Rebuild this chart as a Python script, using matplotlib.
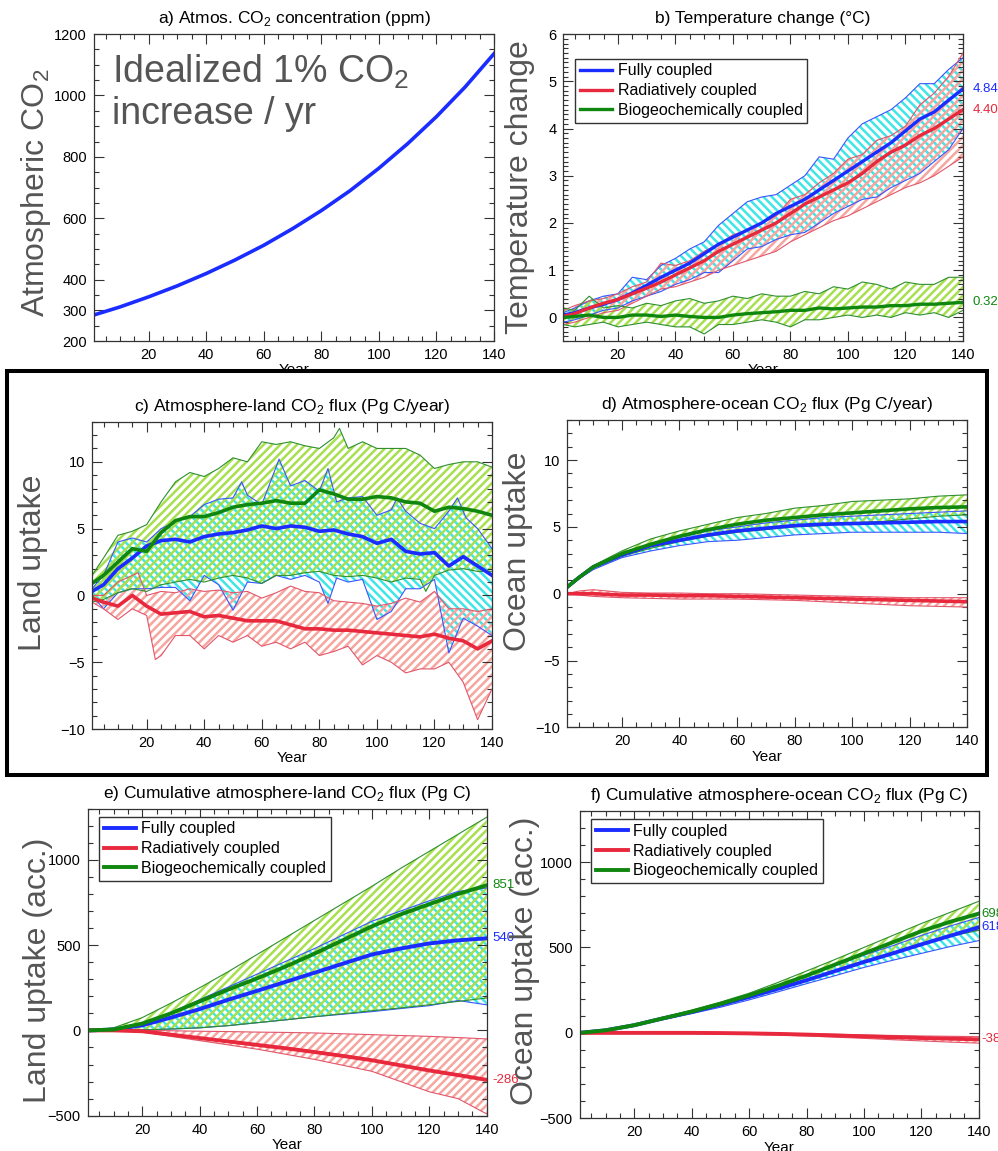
import numpy as np
import matplotlib.pyplot as plt
from matplotlib.patches import Rectangle
from matplotlib.ticker import MultipleLocator, FixedLocator

plt.rcParams['font.family'] = ['Liberation Sans', 'DejaVu Sans']
plt.rcParams['mathtext.fontset'] = 'custom'
plt.rcParams['mathtext.rm'] = 'Liberation Sans'
plt.rcParams['hatch.linewidth'] = 1.8

# ---- data ----
# a) CO2 concentration
co2_years = [1, 10, 20, 30, 40, 50, 60, 70, 80, 90, 100, 110, 120, 130, 140]
co2_ppm = [285, 311, 344, 380, 420, 464, 512, 566, 625, 690, 763, 843, 931, 1028, 1136]

# b) temperature change, 5-year grid
yr5 = [1, 5, 10, 15, 20, 25, 30, 35, 40, 45, 50, 55, 60, 65, 70, 75, 80, 85, 90, 95,
       100, 105, 110, 115, 120, 125, 130, 135, 140]
tb_full = [0.05, 0.1, 0.2, 0.28, 0.38, 0.52, 0.68, 0.85, 1.0, 1.15, 1.35, 1.55, 1.7, 1.85, 2.0,
           2.2, 2.35, 2.5, 2.7, 2.9, 3.1, 3.3, 3.5, 3.7, 3.95, 4.2, 4.35, 4.6, 4.84]
tb_full_hi = [0.1, 0.2, 0.35, 0.45, 0.5, 0.85, 0.8, 1.1, 1.25, 1.45, 1.6, 1.95, 2.2, 2.45, 2.55,
              2.6, 2.8, 3.0, 3.4, 3.35, 3.8, 4.1, 4.25, 4.4, 4.65, 4.95, 4.95, 5.25, 5.5]
tb_full_lo = [-0.1, -0.05, 0.05, 0.15, 0.2, 0.35, 0.45, 0.55, 0.7, 0.8, 0.95, 0.95, 1.2, 1.45, 1.5,
              1.65, 1.75, 1.8, 2.0, 2.2, 2.35, 2.5, 2.55, 2.75, 2.9, 3.05, 3.3, 3.55, 4.0]
tb_rad = [0.02, 0.08, 0.2, 0.3, 0.38, 0.5, 0.62, 0.75, 0.9, 1.05, 1.2, 1.4, 1.55, 1.7, 1.85,
          2.0, 2.2, 2.4, 2.55, 2.7, 2.85, 3.05, 3.3, 3.5, 3.65, 3.85, 4.0, 4.2, 4.40]
tb_rad_hi = [0.15, 0.25, 0.35, 0.4, 0.5, 0.65, 0.75, 1.15, 1.1, 1.2, 1.4, 1.55, 1.75, 1.85, 2.0,
             2.15, 2.5, 2.6, 2.85, 3.05, 3.35, 3.45, 3.75, 3.85, 4.05, 4.5, 4.75, 5.1, 5.6]
tb_rad_lo = [-0.15, -0.1, 0.0, 0.1, 0.15, 0.3, 0.45, 0.6, 0.65, 0.75, 0.85, 1.0, 1.1, 1.2, 1.3,
             1.4, 1.6, 1.75, 1.9, 2.05, 2.15, 2.3, 2.45, 2.6, 2.75, 2.85, 3.0, 3.2, 3.4]
tb_bgc = [0.0, 0.02, 0.05, 0.0, 0.0, 0.05, 0.05, 0.02, 0.05, 0.02, 0.0, 0.0, 0.05, 0.08, 0.1,
          0.12, 0.15, 0.15, 0.2, 0.18, 0.2, 0.22, 0.22, 0.25, 0.25, 0.28, 0.28, 0.3, 0.32]
tb_bgc_hi = [0.2, 0.15, 0.45, 0.2, 0.25, 0.2, 0.3, 0.25, 0.35, 0.4, 0.3, 0.35, 0.45, 0.4, 0.5,
             0.45, 0.45, 0.55, 0.5, 0.65, 0.6, 0.75, 0.7, 0.6, 0.75, 0.7, 0.7, 0.85, 0.85]
tb_bgc_lo = [-0.15, -0.2, -0.15, -0.1, -0.2, -0.15, -0.1, -0.15, -0.2, -0.2, -0.35, -0.15, -0.15,
             -0.1, -0.05, -0.1, -0.2, -0.05, -0.05, 0.0, 0.05, 0.0, 0.05, 0.0, 0.1, 0.05, 0.1, 0.0, 0.15]

# c) atmosphere-land flux
lc_full = [0.3, 0.8, 2.0, 2.8, 3.7, 4.1, 4.2, 4.0, 4.4, 4.6, 4.7, 4.9, 5.2, 5.0, 5.2, 5.1, 4.8,
           4.9, 4.6, 4.4, 3.9, 4.2, 3.3, 3.1, 3.2, 2.2, 2.9, 2.2, 1.5]
lc_rad = [-0.2, -0.5, -0.8, 0.0, -0.8, -1.4, -1.3, -1.2, -1.6, -1.5, -1.7, -1.9, -1.9, -1.9, -2.2,
          -2.5, -2.5, -2.6, -2.6, -2.7, -2.8, -2.9, -3.0, -3.1, -2.9, -3.2, -3.4, -4.0, -3.4]
lc_bgc = [0.9, 1.5, 2.5, 3.5, 3.3, 4.7, 5.6, 5.9, 5.9, 6.2, 6.6, 6.8, 6.9, 7.1, 6.9, 6.9, 7.9,
          7.6, 7.2, 7.2, 7.4, 7.3, 7.0, 6.9, 6.3, 6.6, 6.5, 6.3, 6.0]
lc_bgc_hi_yr = [1, 5, 10, 15, 20, 25, 30, 35, 40, 45, 50, 55, 60, 65, 70, 75, 80, 85, 87, 90,
                95, 100, 105, 110, 115, 120, 125, 130, 135, 140]
lc_bgc_hi = [1.5, 2.8, 4.5, 4.8, 5.3, 7.0, 8.5, 9.2, 8.9, 9.5, 10.3, 10.0, 11.5, 11.3, 11.5,
             11.2, 11.0, 11.8, 12.5, 11.0, 11.5, 11.0, 11.0, 11.0, 10.5, 9.5, 9.8, 10.0, 10.0, 9.6]
lc_bgc_lo_yr = [1, 5, 10, 15, 20, 25, 30, 35, 40, 45, 50, 55, 60, 65, 70, 75, 80, 85, 90, 95,
                100, 105, 110, 115, 117, 120, 125, 130, 135, 140]
lc_bgc_lo = [-0.5, -0.3, 0.2, 0.5, 0.3, 0.8, 1.0, 1.2, 1.0, 1.3, 1.5, 1.3, 0.9, 1.5, 1.5, 1.7,
             1.8, 1.5, 1.4, 1.5, 1.3, 1.0, 1.3, 1.2, 0.3, 1.5, 1.9, 2.0, 1.8, 1.8]
lc_full_hi_yr = [1, 5, 10, 15, 20, 25, 30, 35, 40, 45, 50, 53, 55, 60, 66, 70, 75, 80, 83, 86,
                 90, 95, 100, 105, 107, 110, 115, 120, 125, 128, 131, 135, 140]
lc_full_hi = [0.5, 1.5, 4.0, 4.3, 4.0, 5.0, 5.5, 5.9, 6.8, 7.2, 7.3, 8.5, 7.5, 6.8, 10.2, 8.2,
              8.6, 7.8, 9.5, 7.0, 7.3, 7.4, 6.0, 6.4, 7.3, 6.3, 5.4, 5.0, 6.3, 7.3, 5.8, 5.0, 3.5]
lc_full_lo_yr = [1, 5, 10, 15, 20, 25, 30, 35, 40, 45, 50, 55, 60, 65, 70, 75, 80, 83, 86, 90,
                 95, 100, 105, 110, 115, 120, 125, 130, 135, 140]
lc_full_lo = [0.0, -1.0, 0.2, 0.5, 0.5, 0.6, 0.6, -0.4, 1.5, 0.8, -1.1, 1.0, 0.9, 1.5, 1.2, 1.5,
              1.0, -0.6, 1.3, 1.0, 1.2, -1.8, -1.2, 0.5, 0.5, 1.2, -4.3, -1.7, -2.3, -3.0]
lc_rad_hi_yr = [1, 5, 10, 15, 17, 20, 25, 30, 35, 40, 45, 50, 55, 60, 65, 70, 75, 80, 85, 90,
                95, 100, 105, 110, 115, 120, 125, 130, 135, 140]
lc_rad_hi = [0.0, 0.0, 1.0, 1.5, 1.7, 0.0, 0.3, 0.2, 0.5, 0.3, 0.4, 0.2, 0.3, -0.2, 0.2, 0.7,
             0.3, 0.2, -0.4, -0.5, -0.6, -0.8, -0.6, -0.2, -0.5, 0.3, -1.0, -1.0, -1.2, -1.0]
lc_rad_lo_yr = [1, 5, 10, 15, 20, 23, 25, 30, 35, 40, 45, 50, 55, 60, 65, 70, 75, 80, 85, 90,
                95, 100, 105, 110, 115, 120, 125, 130, 135, 140]
lc_rad_lo = [-0.5, -1.0, -1.8, -1.0, -1.5, -4.8, -4.5, -3.0, -3.0, -4.0, -3.0, -3.5, -3.0, -3.8,
             -3.5, -4.0, -3.5, -4.5, -4.2, -3.8, -5.2, -4.5, -5.0, -5.8, -5.5, -5.5, -5.0, -6.5, -9.3, -7.0]

# d) atmosphere-ocean flux
yr_d = [1, 5, 10, 20, 30, 40, 50, 60, 70, 80, 90, 100, 110, 120, 130, 140]
od_full = [0.5, 1.2, 2.0, 2.9, 3.6, 4.0, 4.4, 4.7, 4.9, 5.1, 5.2, 5.25, 5.3, 5.35, 5.4, 5.4]
od_full_hi = [0.6, 1.3, 2.0, 3.0, 3.7, 4.2, 4.7, 5.0, 5.3, 5.5, 5.7, 5.8, 5.9, 6.0, 6.1, 6.2]
od_full_lo = [0.4, 1.1, 1.8, 2.7, 3.2, 3.6, 3.9, 4.0, 4.2, 4.4, 4.5, 4.6, 4.6, 4.6, 4.6, 4.5]
od_rad = [0.0, 0.0, 0.0, -0.1, -0.1, -0.15, -0.15, -0.2, -0.25, -0.3, -0.35, -0.4, -0.45, -0.5, -0.55, -0.6]
od_rad_hi = [0.0, 0.2, 0.3, 0.1, 0.05, 0.05, 0.0, 0.0, -0.05, -0.1, -0.15, -0.2, -0.25, -0.3, -0.3, -0.3]
od_rad_lo = [0.0, -0.1, -0.2, -0.3, -0.35, -0.4, -0.4, -0.4, -0.45, -0.5, -0.6, -0.7, -0.8, -0.9, -0.95, -1.0]
od_bgc = [0.5, 1.2, 2.0, 3.0, 3.7, 4.3, 4.8, 5.2, 5.5, 5.7, 5.9, 6.05, 6.2, 6.35, 6.45, 6.5]
od_bgc_hi = [0.6, 1.3, 2.1, 3.2, 4.1, 4.7, 5.2, 5.7, 6.0, 6.4, 6.6, 6.9, 7.0, 7.1, 7.3, 7.4]
od_bgc_lo = [0.4, 1.1, 1.9, 2.8, 3.4, 3.9, 4.3, 4.6, 4.8, 5.0, 5.1, 5.3, 5.4, 5.6, 5.8, 5.9]

# e) cumulative land, f) cumulative ocean
yr_cum = [1, 10, 20, 30, 40, 50, 60, 70, 80, 90, 100, 110, 120, 130, 140]
ce_full = [0, 5, 30, 75, 125, 180, 232, 285, 338, 392, 445, 480, 510, 528, 540]
ce_full_hi = [0, 8, 45, 105, 180, 255, 330, 405, 480, 560, 640, 700, 760, 815, 835]
ce_full_lo = [0, 2, 3, 8, 15, 28, 45, 62, 80, 95, 110, 128, 145, 175, 150]
ce_rad = [0, 0, -5, -25, -45, -65, -85, -105, -127, -150, -175, -205, -235, -262, -290]
ce_rad_hi = [0, 0, 0, -2, -5, -7, -10, -12, -15, -20, -25, -30, -35, -42, -50]
ce_rad_lo = [0, -2, -10, -35, -60, -85, -110, -140, -170, -205, -240, -300, -360, -400, -490]
ce_bgc = [0, 5, 40, 100, 170, 240, 305, 375, 450, 530, 610, 680, 740, 800, 851]
ce_bgc_hi = [0, 15, 75, 160, 250, 345, 445, 545, 645, 745, 845, 950, 1050, 1150, 1250]
ce_bgc_lo = [0, 2, 3, 8, 15, 28, 45, 62, 80, 98, 115, 132, 150, 170, 190]

cf_full = [0, 15, 45, 85, 122, 165, 210, 258, 308, 362, 415, 465, 518, 568, 618]
cf_full_hi = [0, 16, 47, 88, 128, 172, 220, 275, 335, 395, 455, 510, 570, 625, 675]
cf_full_lo = [0, 14, 42, 78, 113, 150, 193, 240, 288, 335, 383, 425, 465, 505, 540]
cf_rad = [0, 0, 0, 0, 0, -1, -3, -6, -10, -15, -20, -25, -30, -34, -38]
cf_rad_hi = [0, 2, 3, 3, 2, 1, 0, -2, -5, -8, -12, -15, -18, -20, -22]
cf_rad_lo = [0, -2, -3, -4, -5, -7, -9, -13, -18, -25, -32, -40, -47, -54, -60]
cf_bgc = [0, 15, 45, 85, 125, 170, 220, 275, 335, 400, 465, 530, 595, 650, 698]
cf_bgc_hi = [0, 16, 48, 90, 133, 180, 232, 295, 362, 430, 500, 570, 640, 705, 770]
cf_bgc_lo = [0, 14, 42, 80, 118, 160, 205, 255, 308, 362, 418, 470, 522, 565, 600]

labels = ['Fully coupled', 'Radiatively coupled', 'Biogeochemically coupled']

# colours
BLUE, RED, GREEN = '#1a2cff', '#e8283c', '#0f870f'
BLUE_EDGE, RED_EDGE, GREEN_EDGE = '#3a55ff', '#e2566a', '#2f8f2f'
CYAN_H, RED_H, GREEN_H = '#3fe6e6', '#f6a59f', '#a6e04e'
GRAY = '#555555'


def frame(ax, title, ylabel, ylim, ymajor, yminor, lab_xy):
    ax.set_xlim(1, 140)
    ax.set_ylim(*ylim)
    ax.xaxis.set_major_locator(MultipleLocator(20))
    ax.xaxis.set_minor_locator(MultipleLocator(5))
    ax.yaxis.set_major_locator(ymajor)
    ax.yaxis.set_minor_locator(MultipleLocator(yminor))
    ax.tick_params(which='both', direction='in', top=True, right=True,
                   color='#333333', labelsize=10.5, pad=5)
    ax.tick_params(which='major', length=7, width=0.8)
    ax.tick_params(which='minor', length=3.5, width=0.8)
    for s in ax.spines.values():
        s.set_color('#333333')
        s.set_linewidth(0.9)
    ax.set_title(title, fontsize=12.5, pad=8)
    ax.set_xlabel('Year', fontsize=11, labelpad=1)
    ax.set_ylabel(ylabel, fontsize=23, color=GRAY)
    ax.yaxis.set_label_coords(*lab_xy)


def band(ax, xu, yu, xl, yl, hcol, ecol, hatch):
    xs = np.concatenate([np.asarray(xu, float), np.asarray(xl, float)[::-1]])
    ys = np.concatenate([np.asarray(yu, float), np.asarray(yl, float)[::-1]])
    ax.fill(xs, ys, facecolor='none', edgecolor=hcol, hatch=hatch, linewidth=0)
    ax.plot(xu, yu, color=ecol, lw=0.8)
    ax.plot(xl, yl, color=ecol, lw=0.8)


def end_label(ax, val, text, color, off):
    ax.annotate(text, xy=(1, val), xycoords=('axes fraction', 'data'),
                xytext=(off, 0), textcoords='offset points', ha='left', va='center',
                color=color, fontsize=9.5, annotation_clip=False)


def legend(ax, handles, anchor):
    ax.legend(handles, labels, loc='upper left', bbox_to_anchor=anchor, fancybox=False,
              edgecolor='#333333', framealpha=1, fontsize=11.5, handlelength=2.0,
              borderpad=0.3, labelspacing=0.3, handletextpad=0.35, borderaxespad=0)


fig = plt.figure(figsize=(9.98, 11.51), dpi=100)

ax_a = fig.add_axes([0.0942, 0.7037, 0.4008, 0.2667])
ax_b = fig.add_axes([0.5644, 0.7037, 0.4005, 0.2667])
ax_c = fig.add_axes([0.0922, 0.3666, 0.4008, 0.2670], zorder=2)
ax_d = fig.add_axes([0.5684, 0.3681, 0.4008, 0.2670], zorder=2)
ax_e = fig.add_axes([0.0879, 0.0307, 0.3998, 0.2667], zorder=2)
ax_f = fig.add_axes([0.5809, 0.0284, 0.3998, 0.2672], zorder=2)

# a)
ax_a.plot(co2_years, co2_ppm, color=BLUE, lw=2.6)
frame(ax_a, 'a) Atmos. CO$_2$ concentration (ppm)', 'Atmospheric CO$_2$', (200, 1200),
      FixedLocator([200, 300, 400, 600, 800, 1000, 1200]), 50, (-0.102, 0.484))
ax_a.text(0.045, 0.94, 'Idealized 1% CO$_2$\nincrease / yr', transform=ax_a.transAxes,
          fontsize=27, color=GRAY, va='top', ha='left', linespacing=1.2)

# b)
band(ax_b, yr5, tb_full_hi, yr5, tb_full_lo, CYAN_H, BLUE_EDGE, '\\\\\\\\')
band(ax_b, yr5, tb_rad_hi, yr5, tb_rad_lo, RED_H, RED_EDGE, '////')
band(ax_b, yr5, tb_bgc_hi, yr5, tb_bgc_lo, GREEN_H, GREEN_EDGE, '////')
hb = [ax_b.plot(yr5, tb_full, color=BLUE, lw=2.4)[0],
      ax_b.plot(yr5, tb_rad, color=RED, lw=2.4)[0],
      ax_b.plot(yr5, tb_bgc, color=GREEN, lw=2.4)[0]]
frame(ax_b, 'b) Temperature change (°C)', 'Temperature change', (-0.5, 6),
      MultipleLocator(1), 0.1, (-0.071, 0.503))
legend(ax_b, hb, (0.03, 0.92))
end_label(ax_b, tb_full[-1], '4.84', BLUE, 7)
end_label(ax_b, tb_rad[-1], '4.40', RED, 7)
end_label(ax_b, tb_bgc[-1], '0.32', GREEN, 7)

# c)
band(ax_c, lc_full_hi_yr, lc_full_hi, lc_full_lo_yr, lc_full_lo, CYAN_H, BLUE_EDGE, '\\\\\\\\')
band(ax_c, lc_rad_hi_yr, lc_rad_hi, lc_rad_lo_yr, lc_rad_lo, RED_H, RED_EDGE, '////')
band(ax_c, lc_bgc_hi_yr, lc_bgc_hi, lc_bgc_lo_yr, lc_bgc_lo, GREEN_H, GREEN_EDGE, '////')
ax_c.plot(yr5, lc_full, color=BLUE, lw=2.6)
ax_c.plot(yr5, lc_rad, color=RED, lw=2.6)
ax_c.plot(yr5, lc_bgc, color=GREEN, lw=2.6)
frame(ax_c, 'c) Atmosphere-land CO$_2$ flux (Pg C/year)', 'Land uptake', (-10, 13),
      MultipleLocator(5), 1, (-0.11, 0.54))

# d)
band(ax_d, yr_d, od_full_hi, yr_d, od_full_lo, CYAN_H, BLUE_EDGE, '\\\\\\\\')
band(ax_d, yr_d, od_rad_hi, yr_d, od_rad_lo, RED_H, RED_EDGE, '////')
band(ax_d, yr_d, od_bgc_hi, yr_d, od_bgc_lo, GREEN_H, GREEN_EDGE, '////')
ax_d.plot(yr_d, od_full, color=BLUE, lw=2.6)
ax_d.plot(yr_d, od_rad, color=RED, lw=2.6)
ax_d.plot(yr_d, od_bgc, color=GREEN, lw=2.6)
frame(ax_d, 'd) Atmosphere-ocean CO$_2$ flux (Pg C/year)', 'Ocean uptake', (-10, 13),
      MultipleLocator(5), 1, (-0.086, 0.574))

# e)
band(ax_e, yr_cum, ce_full_hi, yr_cum, ce_full_lo, CYAN_H, BLUE_EDGE, '\\\\\\\\')
band(ax_e, yr_cum, ce_rad_hi, yr_cum, ce_rad_lo, RED_H, RED_EDGE, '////')
band(ax_e, yr_cum, ce_bgc_hi, yr_cum, ce_bgc_lo, GREEN_H, GREEN_EDGE, '////')
he = [ax_e.plot(yr_cum, ce_full, color=BLUE, lw=2.8)[0],
      ax_e.plot(yr_cum, ce_rad, color=RED, lw=2.8)[0],
      ax_e.plot(yr_cum, ce_bgc, color=GREEN, lw=2.8)[0]]
frame(ax_e, 'e) Cumulative atmosphere-land CO$_2$ flux (Pg C)', 'Land uptake (acc.)',
      (-500, 1300), MultipleLocator(500), 100, (-0.087, 0.472))
legend(ax_e, he, (0.028, 0.974))
end_label(ax_e, ce_bgc[-1], '851', GREEN, 4)
end_label(ax_e, ce_full[-1], '540', BLUE, 4)
end_label(ax_e, ce_rad[-1], '-286', RED, 4)

# f)
band(ax_f, yr_cum, cf_full_hi, yr_cum, cf_full_lo, CYAN_H, BLUE_EDGE, '\\\\\\\\')
band(ax_f, yr_cum, cf_rad_hi, yr_cum, cf_rad_lo, RED_H, RED_EDGE, '////')
band(ax_f, yr_cum, cf_bgc_hi, yr_cum, cf_bgc_lo, GREEN_H, GREEN_EDGE, '////')
hf = [ax_f.plot(yr_cum, cf_full, color=BLUE, lw=2.8)[0],
      ax_f.plot(yr_cum, cf_rad, color=RED, lw=2.8)[0],
      ax_f.plot(yr_cum, cf_bgc, color=GREEN, lw=2.8)[0]]
frame(ax_f, 'f) Cumulative atmosphere-ocean CO$_2$ flux (Pg C)', 'Ocean uptake (acc.)',
      (-500, 1300), MultipleLocator(500), 100, (-0.1, 0.512))
legend(ax_f, hf, (0.028, 0.973))
end_label(ax_f, cf_bgc[-1], '698', GREEN, 2)
end_label(ax_f, cf_full[-1], '618', BLUE, 2)
end_label(ax_f, cf_rad[-1], '-38', RED, 2)

# black box around the middle row
fig.add_artist(Rectangle((0.007, 0.3267), 0.982, 0.351, transform=fig.transFigure,
                         facecolor='white', edgecolor='black', lw=2.9, zorder=1))

fig.savefig('out.png', dpi=100)
